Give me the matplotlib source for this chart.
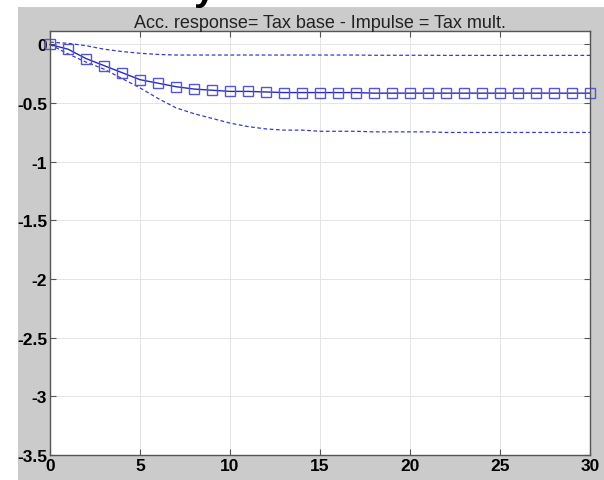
import numpy as np
import matplotlib.pyplot as plt
from matplotlib.patches import Rectangle

# accumulated impulse response with error bands, periods 0..30
horizon = list(range(31))
response = [0.0, -0.04, -0.12, -0.18, -0.24, -0.30, -0.33, -0.36, -0.38, -0.39,
            -0.40, -0.40, -0.405, -0.41, -0.41, -0.41, -0.41, -0.41, -0.415, -0.415,
            -0.415, -0.415, -0.415, -0.415, -0.415, -0.415, -0.415, -0.415, -0.415, -0.415,
            -0.415]
upper = [0.02, 0.01, -0.01, -0.04, -0.06, -0.075, -0.085, -0.09, -0.09, -0.09,
         -0.09, -0.09, -0.09, -0.09, -0.09, -0.09, -0.09, -0.09, -0.092, -0.092,
         -0.092, -0.092, -0.093, -0.093, -0.093, -0.093, -0.093, -0.093, -0.093, -0.093,
         -0.093]
lower = [0.0, -0.08, -0.15, -0.21, -0.29, -0.37, -0.46, -0.54, -0.59, -0.63,
         -0.67, -0.70, -0.72, -0.73, -0.73, -0.74, -0.74, -0.74, -0.745, -0.745,
         -0.745, -0.745, -0.75, -0.75, -0.75, -0.75, -0.75, -0.75, -0.75, -0.75,
         -0.75]
xticks = [0, 5, 10, 15, 20, 25, 30]
yticks = [0, -0.5, -1, -1.5, -2, -2.5, -3, -3.5]
title = 'Acc. response= Tax base - Impulse = Tax mult.'

plt.rcParams['font.family'] = ['Liberation Sans', 'DejaVu Sans']

fig = plt.figure(figsize=(6.04, 4.81), dpi=100, facecolor='white')
# grey figure panel behind the axes
fig.patches.append(Rectangle((18 / 604, 0), 1 - 18 / 604, 1 - 8 / 481,
                             transform=fig.transFigure, facecolor='#cbcbcb',
                             edgecolor='none', zorder=-10))
# bottom of a heading from the panel above
fig.text(205 / 604, 1.0, 'y', fontsize=28, fontweight='bold', color='black',
         ha='center', va='baseline')

ax = fig.add_axes([50 / 604, 1 - 456 / 481, 540 / 604, 424 / 481])
ax.set_zorder(1)
ax.set_facecolor('white')

ax.plot(horizon, upper, linestyle='--', color='#3a3ac8', linewidth=0.9, dashes=(3, 2))
ax.plot(horizon, lower, linestyle='--', color='#3a3ac8', linewidth=0.9, dashes=(3, 2))
ax.plot(horizon, response, color='#2a2ab8', linewidth=1.0, marker='s',
        markersize=7.5, markerfacecolor='none', markeredgecolor='#5555d5',
        markeredgewidth=1.0, clip_on=False)

ax.set_xlim(0, 30)
ax.set_ylim(-3.5, 0.115)
ax.set_xticks(xticks)
ax.set_xticklabels([str(v) for v in xticks])
ax.set_yticks(yticks)
ax.set_yticklabels(['0', '-0.5', '-1', '-1.5', '-2', '-2.5', '-3', '-3.5'])
ax.grid(True, color='#e4e4e4', linewidth=0.7)
ax.set_axisbelow(True)
ax.tick_params(direction='in', top=True, right=True, length=4, width=0.8,
               colors='#555555', labelcolor='black', labelsize=12.5, pad=2)
for lbl in ax.get_xticklabels() + ax.get_yticklabels():
    lbl.set_fontweight('bold')
for s in ax.spines.values():
    s.set_color('#555555')
    s.set_linewidth(1.0)

ax.set_title(title, fontsize=13, color='#222222', pad=3)

fig.savefig('out.png', dpi=100, facecolor=fig.get_facecolor())
